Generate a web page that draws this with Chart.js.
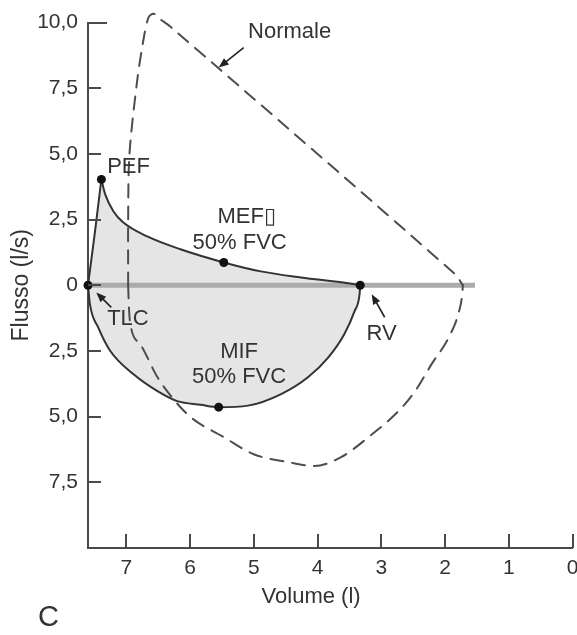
<!DOCTYPE html>
<html>
<head>
<meta charset="utf-8">
<script src="https://cdn.jsdelivr.net/npm/chart.js@4.4.1/dist/chart.umd.min.js"></script>
<style>
  html, body { margin: 0; padding: 0; background: #fff; overflow: hidden; }
  #wrap { width: 577px; height: 635px; position: relative; }
</style>
</head>
<body>
<div id="wrap"><canvas id="chart" width="577" height="635"></canvas></div>
<script>
// Axis ticks: volume (l) and flow (l/s)
const volumeTicks = [0, 1, 2, 3, 4, 5, 6, 7];
const flowTicks = [-7.5, -5, -2.5, 0, 2.5, 5, 7.5, 10];

// Patient loop: expiratory rise to PEF, expiratory decay to RV, inspiration TLC..RV
const patRiseVol  = [7.6, 7.49, 7.39];
const patRiseFlow = [0, 2.05, 4.03];
const patExpVol   = [7.39, 7.33, 7.2, 7.05, 6.67, 6.15, 5.47, 4.89, 4.26, 3.52, 3.33];
const patExpFlow  = [4.03, 3.46, 2.81, 2.4, 1.86, 1.37, 0.87, 0.53, 0.3, 0.08, 0];
const patInspVol  = [7.6, 7.57, 7.44, 7.25, 6.89, 6.51, 6.2, 5.83, 5.55, 5.09, 4.57, 4.15, 3.83, 3.58, 3.42, 3.34, 3.33];
const patInspFlow = [0, -0.72, -1.6, -2.5, -3.38, -4.03, -4.41, -4.55, -4.64, -4.58, -4.14, -3.5, -2.74, -1.86, -0.99, -0.34, 0];

// Normal reference loop (dashed)
const normExpVol   = [6.97, 6.97, 6.95, 6.83, 6.73, 6.65, 6.57, 6.48, 6.31, 1.84, 1.72];
const normExpFlow  = [0, 2.5, 4.98, 7.76, 9.35, 10.2, 10.34, 10.15, 9.85, 0.42, 0];
const normInspVol  = [6.97, 6.96, 6.94, 6.78, 6.51, 6.26, 5.99, 5.47, 5.0, 4.46, 4.05, 3.63, 3.2, 2.73, 2.47, 2.21, 1.94, 1.78, 1.73, 1.72];
const normInspFlow = [0, -0.72, -1.41, -2.24, -3.5, -4.33, -5.02, -5.78, -6.43, -6.73, -6.88, -6.54, -5.78, -4.79, -4.03, -3.0, -1.98, -0.99, -0.34, 0];

// Marked points: TLC, PEF, MEF 50% FVC, MIF 50% FVC, RV
const markerVol  = [7.6, 7.39, 5.47, 5.55, 3.33];
const markerFlow = [0, 4.03, 0.87, -4.64, 0];

// Zero-flow baseline
const baselineVol  = [7.6, 1.53];
const baselineFlow = [0, 0];

const textColor = '#333';
const axisColor = '#4a4a4a';
const curveColor = '#333';
const dashColor = '#4d4d4d';
const fillColor = '#e5e5e5';
const family = "'Liberation Sans', Arial, Helvetica, sans-serif";

const pts = (xs, ys) => xs.map((v, i) => ({ x: v, y: ys[i] }));

// Shades the patient loop as one shape, following the drawn curves
const loopFill = {
  id: 'loopFill',
  beforeDatasetsDraw(chart) {
    const { ctx, chartArea } = chart;
    const trace = (idx, first) => {
      const el = chart.getDatasetMeta(idx).dataset;
      el.updateControlPoints(chartArea, 'x');
      const opts = el.options;
      const curved = opts.tension || opts.cubicInterpolationMode === 'monotone';
      const p = el.points;
      if (first) ctx.moveTo(p[0].x, p[0].y); else ctx.lineTo(p[0].x, p[0].y);
      for (let i = 1; i < p.length; i++) {
        const a = p[i - 1], b = p[i];
        if (curved) ctx.bezierCurveTo(a.cp2x, a.cp2y, b.cp1x, b.cp1y, b.x, b.y);
        else ctx.lineTo(b.x, b.y);
      }
    };
    ctx.save();
    ctx.fillStyle = fillColor;
    ctx.beginPath();
    trace(1, true);
    trace(2, false);
    ctx.closePath();
    trace(3, true);
    ctx.closePath();
    ctx.fill();
    ctx.restore();
  }
};

const annotations = {
  id: 'annotations',
  afterDraw(chart) {
    const { ctx, chartArea, scales: { x, y } } = chart;
    const px = v => x.getPixelForValue(v);
    const py = f => y.getPixelForValue(f);
    ctx.save();

    // tick marks pointing into the plot
    ctx.strokeStyle = axisColor;
    ctx.lineWidth = 2;
    ctx.beginPath();
    volumeTicks.forEach(v => {
      const xx = Math.round(px(v));
      ctx.moveTo(xx, chartArea.bottom);
      ctx.lineTo(xx, chartArea.bottom - 14);
    });
    flowTicks.forEach(f => {
      const yy = Math.round(py(f));
      ctx.moveTo(chartArea.left, yy);
      ctx.lineTo(chartArea.left + (f === 10 ? 19 : 13), yy);
    });
    ctx.stroke();

    // arrows
    const arrow = (tipV, tipF, dx, dy) => {
      const tx = px(tipV), ty = py(tipF);
      const sx = tx + dx, sy = ty + dy;
      const ang = Math.atan2(ty - sy, tx - sx);
      ctx.strokeStyle = '#222';
      ctx.fillStyle = '#222';
      ctx.lineWidth = 1.6;
      ctx.beginPath();
      ctx.moveTo(sx, sy);
      ctx.lineTo(tx - 6 * Math.cos(ang), ty - 6 * Math.sin(ang));
      ctx.stroke();
      ctx.beginPath();
      ctx.moveTo(tx, ty);
      ctx.lineTo(tx - 10 * Math.cos(ang) + 4 * Math.sin(ang), ty - 10 * Math.sin(ang) - 4 * Math.cos(ang));
      ctx.lineTo(tx - 10 * Math.cos(ang) - 4 * Math.sin(ang), ty - 10 * Math.sin(ang) + 4 * Math.cos(ang));
      ctx.closePath();
      ctx.fill();
    };
    arrow(5.55, 8.29, 25, -20);
    arrow(7.47, -0.27, 15, 15);
    arrow(3.15, -0.34, 13, 23);

    // labels
    ctx.fillStyle = textColor;
    ctx.textBaseline = 'middle';
    ctx.font = `22px ${family}`;
    const label = (txt, v, f, align) => {
      ctx.textAlign = align;
      ctx.fillText(txt, px(v), py(f));
    };
    label('Normale', 5.09, 9.66, 'left');
    label('PEF', 7.30, 4.52, 'left');
    label('MEF\u25AF', 5.57, 2.59, 'left');
    label('50% FVC', 5.96, 1.63, 'left');
    label('MIF', 5.23, -2.55, 'center');
    label('50% FVC', 5.23, -3.5, 'center');
    label('TLC', 7.30, -1.29, 'left');
    label('RV', 3.23, -1.86, 'left');

    // x axis title
    ctx.textAlign = 'center';
    ctx.fillText('Volume (l)', px(4.1), 597);

    // panel letter
    ctx.font = `29px ${family}`;
    ctx.textAlign = 'left';
    ctx.fillText('C', 38, 618);
    ctx.restore();
  }
};

const lineBase = { showLine: true, pointRadius: 0, borderCapStyle: 'round', borderJoinStyle: 'round', fill: false };

new Chart(document.getElementById('chart'), {
  type: 'scatter',
  data: {
    datasets: [
      { ...lineBase, label: 'baseline', data: pts(baselineVol, baselineFlow), borderColor: '#ababab', borderWidth: 5, borderCapStyle: 'butt', order: 6 },
      { ...lineBase, label: 'rise', data: pts(patRiseVol, patRiseFlow), borderColor: curveColor, borderWidth: 2, tension: 0, order: 3 },
      { ...lineBase, label: 'expiration', data: pts(patExpVol, patExpFlow), borderColor: curveColor, borderWidth: 2, cubicInterpolationMode: 'monotone', order: 3 },
      { ...lineBase, label: 'inspiration', data: pts(patInspVol, patInspFlow), borderColor: curveColor, borderWidth: 2, cubicInterpolationMode: 'monotone', order: 3 },
      { ...lineBase, label: 'normal expiration', data: pts(normExpVol, normExpFlow), borderColor: dashColor, borderWidth: 2, borderDash: [13, 9], tension: 0.3, clip: false, order: 2 },
      { ...lineBase, label: 'normal inspiration', data: pts(normInspVol, normInspFlow), borderColor: dashColor, borderWidth: 2, borderDash: [13, 9], cubicInterpolationMode: 'monotone', clip: false, order: 2 },
      { label: 'points', data: pts(markerVol, markerFlow), showLine: false, pointRadius: 4.5, pointBackgroundColor: '#111', pointBorderWidth: 0, clip: false, order: 0 }
    ]
  },
  options: {
    responsive: false,
    animation: false,
    events: [],
    layout: { padding: { top: 18, right: 0, bottom: 0, left: 0 } },
    plugins: {
      legend: { display: false },
      tooltip: { enabled: false }
    },
    scales: {
      x: {
        type: 'linear', reverse: true, min: 0, max: 7.6,
        grid: { display: false, drawTicks: false },
        border: { display: true, color: axisColor, width: 2 },
        ticks: { padding: 8, color: textColor, font: { family, size: 21 }, callback: v => String(v) },
        afterBuildTicks: s => { s.ticks = volumeTicks.map(v => ({ value: v })); },
        afterFit: s => { s.height = 87; }
      },
      y: {
        type: 'linear', min: -10, max: 10,
        grid: { display: false, drawTicks: false },
        border: { display: true, color: axisColor, width: 2 },
        ticks: {
          padding: 10, color: textColor, font: { family, size: 21 },
          callback: v => v === 0 ? '0' : Math.abs(v).toFixed(1).replace('.', ',')
        },
        afterBuildTicks: s => { s.ticks = flowTicks.map(v => ({ value: v })); },
        afterFit: s => { s.width = 88; },
        title: { display: true, text: 'Flusso (l/s)', color: textColor, font: { family, size: 23 }, padding: { top: 8, bottom: 0 } }
      }
    }
  },
  plugins: [loopFill, annotations]
});
</script>
</body>
</html>
